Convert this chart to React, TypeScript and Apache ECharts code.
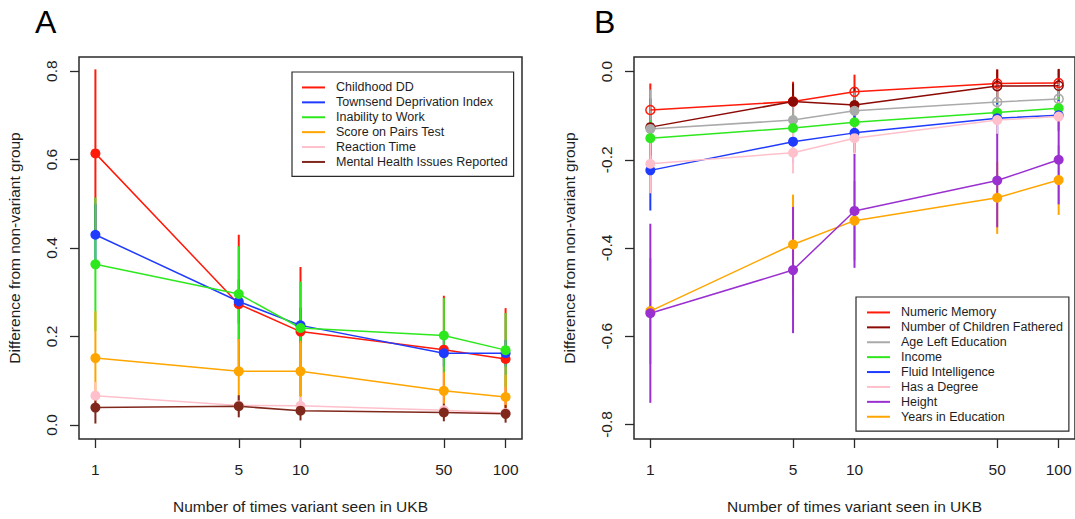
import React, { useEffect, useRef } from 'react';
import * as echarts from 'echarts';

// ---------- data ----------
const counts = [1, 5, 10, 50, 100];
const xTickLabels = [1, 5, 10, 50, 100];
const yTicksA = [0, 0.2, 0.4, 0.6, 0.8];
const yTicksB = [-0.8, -0.6, -0.4, -0.2, 0];

// Panel A
const childhoodDD = [0.614, 0.273, 0.211, 0.170, 0.149];
const childhoodDDErr = [0.19, 0.157, 0.146, 0.122, 0.115];
const townsend = [0.430, 0.279, 0.225, 0.162, 0.162];
const townsendErr = [0.07, 0.05, 0.04, 0.03, 0.03];
const inabilityWork = [0.363, 0.296, 0.219, 0.202, 0.169];
const inabilityWorkErr = [0.151, 0.108, 0.105, 0.085, 0.084];
const pairsTest = [0.151, 0.121, 0.121, 0.077, 0.063];
const pairsTestErr = [0.106, 0.073, 0.069, 0.042, 0.05];
const reactionTime = [0.066, 0.044, 0.043, 0.033, 0.027];
const reactionTimeErr = [0.031, 0.02, 0.02, 0.015, 0.013];
const mentalHealth = [0.039, 0.042, 0.032, 0.028, 0.025];
const mentalHealthErr = [0.036, 0.025, 0.022, 0.02, 0.02];

// Panel B
const numericMemory = [-0.087, -0.068, -0.046, -0.027, -0.026];
const numericMemoryErr = [0.06, 0.045, 0.039, 0.031, 0.031];
const childrenFathered = [-0.126, -0.068, -0.076, -0.033, -0.032];
const childrenFatheredErr = [0.065, 0.041, 0.039, 0.038, 0.038];
const ageLeftEducation = [-0.130, -0.110, -0.089, -0.069, -0.062];
const ageLeftEducationErr = [0.089, 0.05, 0.045, 0.04, 0.04];
const income = [-0.151, -0.128, -0.115, -0.093, -0.083];
const incomeErr = [0.04, 0.03, 0.03, 0.025, 0.025];
const fluidIntelligence = [-0.224, -0.159, -0.139, -0.106, -0.099];
const fluidIntelligenceErr = [0.091, 0.05, 0.045, 0.035, 0.035];
const hasDegree = [-0.209, -0.184, -0.151, -0.110, -0.102];
const hasDegreeErr = [0.067, 0.047, 0.04, 0.035, 0.035];
const height = [-0.548, -0.450, -0.316, -0.247, -0.200];
const heightErr = [0.203, 0.143, 0.129, 0.106, 0.101];
const yearsEducation = [-0.543, -0.392, -0.338, -0.286, -0.246];
const yearsEducationErr = [0.12, 0.113, 0.09, 0.082, 0.079];

const noHollow = [false, false, false, false, false];
const numericMemoryHollow = [true, true, true, true, true];
const childrenFatheredHollow = [false, false, false, true, true];
const ageLeftEducationHollow = [false, false, false, true, true];

type Trait = { name: string; color: string; values: number[]; err: number[]; hollow: boolean[] };

const traitsA: Trait[] = [
  { name: 'Childhood DD', color: '#FF1A0A', values: childhoodDD, err: childhoodDDErr, hollow: noHollow },
  { name: 'Townsend Deprivation Index', color: '#1F3BFF', values: townsend, err: townsendErr, hollow: noHollow },
  { name: 'Inability to Work', color: '#2EE81E', values: inabilityWork, err: inabilityWorkErr, hollow: noHollow },
  { name: 'Score on Pairs Test', color: '#FFA500', values: pairsTest, err: pairsTestErr, hollow: noHollow },
  { name: 'Reaction Time', color: '#FFC0CB', values: reactionTime, err: reactionTimeErr, hollow: noHollow },
  { name: 'Mental Health Issues Reported', color: '#80281C', values: mentalHealth, err: mentalHealthErr, hollow: noHollow },
];

const traitsB: Trait[] = [
  { name: 'Numeric Memory', color: '#FF1A0A', values: numericMemory, err: numericMemoryErr, hollow: numericMemoryHollow },
  { name: 'Number of Children Fathered', color: '#8B0A05', values: childrenFathered, err: childrenFatheredErr, hollow: childrenFatheredHollow },
  { name: 'Age Left Education', color: '#AAAAAA', values: ageLeftEducation, err: ageLeftEducationErr, hollow: ageLeftEducationHollow },
  { name: 'Income', color: '#2EE81E', values: income, err: incomeErr, hollow: noHollow },
  { name: 'Fluid Intelligence', color: '#1F3BFF', values: fluidIntelligence, err: fluidIntelligenceErr, hollow: noHollow },
  { name: 'Has a Degree', color: '#FFC0CB', values: hasDegree, err: hasDegreeErr, hollow: noHollow },
  { name: 'Height', color: '#9B30D0', values: height, err: heightErr, hollow: noHollow },
  { name: 'Years in Education', color: '#FFA500', values: yearsEducation, err: yearsEducationErr, hollow: noHollow },
];

// drawing order (later = on top); legend order stays as listed above
const drawOrderA = [0, 1, 2, 3, 4, 5];
const drawOrderB = [0, 1, 2, 3, 4, 5, 7, 6];

const FONT = '"Liberation Sans", Arial, Helvetica, sans-serif';
const TEXT = '#1e1e1e';
const AXIS = '#2a2a2a';

function buildSeries(traits: Trait[], order: number[], idx: number): any[] {
  const out: any[] = [];
  order.forEach((k) => {
    const t = traits[k];
    out.push({
      type: 'custom',
      name: t.name + ' (CI)',
      xAxisIndex: idx,
      yAxisIndex: idx,
      silent: true,
      data: counts.map((c, i) => [Math.log10(c), t.values[i] - t.err[i], t.values[i] + t.err[i]]),
      encode: { x: 0, y: [1, 2] },
      renderItem: (_p: any, api: any) => {
        const x = api.value(0);
        const a = api.coord([x, api.value(1)]);
        const b = api.coord([x, api.value(2)]);
        return {
          type: 'line',
          shape: { x1: a[0], y1: a[1], x2: b[0], y2: b[1] },
          style: { stroke: t.color, lineWidth: 2 },
        };
      },
    });
    out.push({
      type: 'line',
      name: t.name,
      xAxisIndex: idx,
      yAxisIndex: idx,
      color: t.color,
      symbol: 'circle',
      symbolSize: 10,
      showAllSymbol: true,
      lineStyle: { color: t.color, width: 1.5 },
      itemStyle: { color: t.color },
      emphasis: { disabled: true },
      data: counts.map((c, i) =>
        t.hollow[i]
          ? {
              value: [Math.log10(c), t.values[i]],
              symbolSize: 9,
              itemStyle: { color: 'rgba(255,255,255,0)', borderColor: t.color, borderWidth: 1.5 },
            }
          : { value: [Math.log10(c), t.values[i]] }
      ),
    });
  });
  return out;
}

function makeLegend(traits: Trait[], left: number, top: number, pad: number[]) {
  return {
    data: traits.map((t) => ({ name: t.name, icon: 'rect' })),
    orient: 'vertical',
    left,
    top,
    itemWidth: 23,
    itemHeight: 2,
    itemGap: 0,
    padding: pad,
    borderColor: AXIS,
    borderWidth: 1.2,
    selectedMode: false,
    textStyle: { fontSize: 12.5, lineHeight: 14.9, color: TEXT, fontFamily: FONT, padding: [0, 0, 0, 6] },
  };
}

const xTickPos = xTickLabels.map((v) => Math.log10(v));

function xAxisOf(idx: number) {
  return {
    type: 'value',
    gridIndex: idx,
    min: -0.08,
    max: 2.08,
    axisLine: { show: false, onZero: false },
    axisTick: { show: true, length: 9, lineStyle: { color: AXIS, width: 1.3 }, customValues: xTickPos },
    axisLabel: {
      customValues: xTickPos,
      formatter: (v: number) => String(Math.round(Math.pow(10, v))),
      margin: 22,
      fontSize: 15.5,
      color: TEXT,
      fontFamily: FONT,
    },
    splitLine: { show: false },
    name: 'Number of times variant seen in UKB',
    nameLocation: 'middle',
    nameGap: 59,
    nameTextStyle: { fontSize: 15.5, color: TEXT, fontFamily: FONT },
  };
}

function yAxisOf(idx: number, min: number, max: number, ticks: number[]) {
  return {
    type: 'value',
    gridIndex: idx,
    min,
    max,
    axisLine: { show: false, onZero: false },
    axisTick: { show: true, length: 9, lineStyle: { color: AXIS, width: 1.3 }, customValues: ticks },
    axisLabel: {
      customValues: ticks,
      rotate: 90,
      formatter: (v: number) => v.toFixed(1),
      margin: 20,
      fontSize: 15.5,
      color: TEXT,
      fontFamily: FONT,
    },
    splitLine: { show: false },
    name: 'Difference from non-variant group',
    nameLocation: 'middle',
    nameGap: 57,
    nameTextStyle: { fontSize: 15.5, color: TEXT, fontFamily: FONT },
  };
}

export default function App() {
  const ref = useRef<HTMLDivElement>(null);
  useEffect(() => {
    if (!ref.current) return;
    const chart = echarts.init(ref.current, undefined, { renderer: 'svg' });
    chart.setOption({
      animation: false,
      backgroundColor: '#ffffff',
      textStyle: { fontFamily: FONT },
      grid: [
        { left: 79, top: 57, width: 443, height: 387, show: true, borderColor: AXIS, borderWidth: 1.5, backgroundColor: 'transparent' },
        { left: 634, top: 57, width: 443, height: 388, show: true, borderColor: AXIS, borderWidth: 1.5, backgroundColor: 'transparent' },
      ],
      xAxis: [xAxisOf(0), xAxisOf(1)],
      yAxis: [yAxisOf(0, -0.032, 0.832, yTicksA), yAxisOf(1, -0.833, 0.033, yTicksB)],
      legend: [
        makeLegend(traitsA, 292, 72, [8, 6, 7, 10]),
        makeLegend(traitsB, 856, 297, [8, 6, 7, 11]),
      ],
      graphic: [
        { type: 'text', style: { x: 35, y: 22, text: 'A', fontSize: 32, fontFamily: FONT, fill: '#000', verticalAlign: 'middle' } },
        { type: 'text', style: { x: 594, y: 22, text: 'B', fontSize: 32, fontFamily: FONT, fill: '#000', verticalAlign: 'middle' } },
      ],
      series: [...buildSeries(traitsA, drawOrderA, 0), ...buildSeries(traitsB, drawOrderB, 1)],
    });
    return () => chart.dispose();
  }, []);
  return (
    <div
      ref={ref}
      style={{ position: 'fixed', left: 0, top: 0, width: 1075, height: 519, background: '#fff' }}
    />
  );
}
